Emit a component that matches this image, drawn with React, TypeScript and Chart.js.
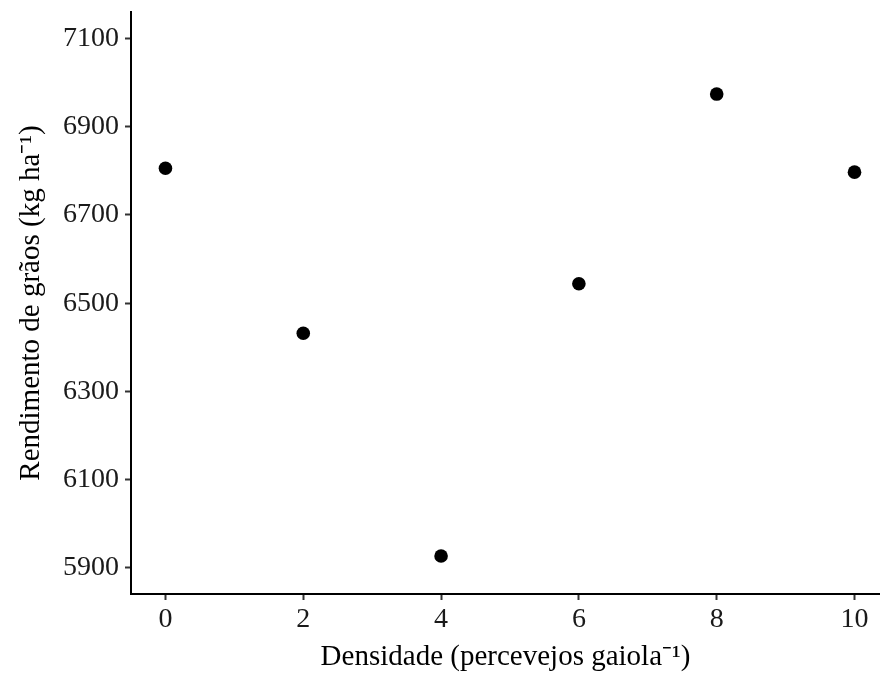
import React, { useEffect, useRef } from "react";
import { Chart, registerables } from "chart.js";

Chart.register(...registerables);

const densidade = [0, 2, 4, 6, 8, 10];
const rendimento = [6806, 6432, 5927, 6544, 6974, 6797];
const xTicks = [0, 2, 4, 6, 8, 10];
const yTicks = [5900, 6100, 6300, 6500, 6700, 6900, 7100];
const xRange = [-0.5, 10.37];
const yRange = [5841, 7160];
const xTitle = "Densidade (percevejos gaiola\u207B\u00B9)";
const yTitle = "Rendimento de grãos (kg ha\u207B\u00B9)";

const FONT = "'Liberation Serif', 'Times New Roman', serif";

export default function App() {
  const ref = useRef<HTMLCanvasElement | null>(null);
  useEffect(() => {
    if (!ref.current) return;
    const chart = new Chart(ref.current, {
      type: "scatter",
      data: {
        datasets: [
          {
            data: densidade.map((x, i) => ({ x, y: rendimento[i] })),
            backgroundColor: "#000",
            borderWidth: 0,
            pointRadius: 6.8,
            pointHoverRadius: 6.8,
            clip: false,
          },
        ],
      },
      options: {
        animation: false,
        responsive: true,
        maintainAspectRatio: false,
        layout: { autoPadding: false, padding: { top: 12, right: 0, left: 0, bottom: 0 } },
        plugins: { legend: { display: false }, tooltip: { enabled: false } },
        scales: {
          x: {
            type: "linear",
            min: xRange[0],
            max: xRange[1],
            afterBuildTicks: (s: any) => {
              s.ticks = xTicks.map((v) => ({ value: v }));
            },
            afterFit: (s: any) => {
              s.height = 81;
              s.paddingLeft = 0;
              s.paddingRight = 0;
            },
            grid: {
              drawOnChartArea: false,
              drawTicks: true,
              tickLength: 6,
              tickColor: "#333",
              tickWidth: 2,
            },
            border: { display: true, color: "#000", width: 2 },
            ticks: {
              color: "#1a1a1a",
              font: { family: FONT, size: 28 },
              padding: 3,
              maxRotation: 0,
              callback: (v: any) => String(v),
            },
            title: {
              display: true,
              text: xTitle,
              color: "#000",
              font: { family: FONT, size: 29 },
              padding: 0,
            },
          },
          y: {
            type: "linear",
            min: yRange[0],
            max: yRange[1],
            afterBuildTicks: (s: any) => {
              s.ticks = yTicks.map((v) => ({ value: v }));
            },
            afterFit: (s: any) => {
              s.width = 131;
              s.paddingTop = 0;
              s.paddingBottom = 0;
            },
            grid: {
              drawOnChartArea: false,
              drawTicks: true,
              tickLength: 6,
              tickColor: "#333",
              tickWidth: 2,
            },
            border: { display: true, color: "#000", width: 2 },
            ticks: {
              color: "#1a1a1a",
              font: { family: FONT, size: 28 },
              padding: 6,
              callback: (v: any) => String(v),
            },
            title: {
              display: true,
              text: yTitle,
              color: "#000",
              font: { family: FONT, size: 29 },
              padding: { top: 14, bottom: 0 },
            },
          },
        },
      },
    });
    return () => chart.destroy();
  }, []);
  return (
    <div style={{ position: "absolute", left: 0, top: 0, width: 880, height: 675, background: "#fff" }}>
      <canvas ref={ref} />
    </div>
  );
}
